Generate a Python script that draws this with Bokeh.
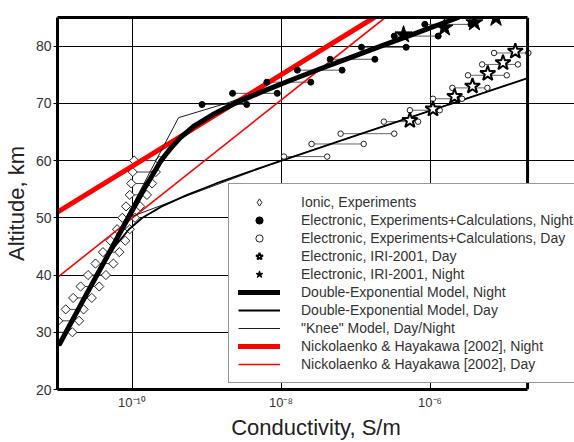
import numpy as np
from bokeh.plotting import figure
from bokeh.models import FixedTicker, Legend, LegendItem, Range1d, LogAxis, Span
from bokeh.embed import file_html
from bokeh.resources import INLINE

# ---------------- data (log10 of conductivity, S/m ; altitude, km) ----------------
ionic_alt = [30, 32, 34, 36, 38, 40, 42, 44, 46, 48, 50, 52, 54, 56, 58, 60]
ionic_lo = [-11.10, -10.99, -10.89, -10.79, -10.69, -10.59, -10.49, -10.39, -10.29,
            -10.20, -10.13, -10.08, -10.03, -10.01, -9.99, -9.97]
ionic_hi = [-10.80, -10.71, -10.65, -10.54, -10.44, -10.35, -10.25, -10.17, -10.09,
            -10.03, -9.96, -9.89, -9.80, -9.73, -9.68, -9.63]

night_alt = [69.8, 71.75, 73.7, 75.8, 77.7, 79.8, 81.75, 83.8]
night_lo = [-9.06, -8.65, -8.19, -7.78, -7.34, -6.92, -6.48, -6.07]
night_hi = [-8.46, -8.05, -7.60, -7.18, -6.74, -6.32, -5.89, -5.45]

day_alt = [60.7, 62.9, 64.7, 66.8, 68.8, 70.8, 72.7, 74.9, 76.8, 78.8]
day_lo = [-7.96, -7.59, -7.20, -6.62, -6.27, -5.96, -5.70, -5.49, -5.30, -5.14]
day_hi = [-7.38, -6.89, -6.48, -6.16, -5.87, -5.57, -5.23, -4.97, -4.82, -4.68]

iri_day_alt = [67.0, 69.0, 71.2, 73.0, 75.2, 77.1, 79.1]
iri_day_sig = [-6.27, -5.96, -5.67, -5.43, -5.225, -5.02, -4.855]

iri_night_alt = [82.0, 83.2, 84.1, 84.9]
iri_night_sig = [-6.355, -5.806, -5.404, -5.114]

de_night_alt = [28, 35, 40, 45, 50, 55, 58, 60, 62, 64, 66, 68, 70, 72, 74, 76, 78, 80, 82, 84, 85]
de_night_sig = [-10.97, -10.68, -10.47, -10.26, -10.05, -9.84, -9.70, -9.61, -9.49, -9.35,
                -9.17, -8.92, -8.62, -8.26, -7.88, -7.48, -7.07, -6.66, -6.24, -5.83, -5.62]

de_day_alt = [28, 40, 45, 48, 50, 52, 54, 56, 58, 60, 65, 70, 74.4]
de_day_sig = [-10.97, -10.47, -10.23, -10.04, -9.86, -9.60, -9.26, -8.87, -8.44, -7.99,
              -6.85, -5.70, -4.69]

knee_night_alt = [28.25, 67.5, 70.1, 85.0]
knee_night_sig = [-10.96, -9.375, -8.71, -5.60]
knee_day_alt = [28.25, 49.8, 60.0, 74.4]
knee_day_sig = [-10.96, -10.09, -8.00, -4.69]

nh_night_alt = [51.0, 85.0]
nh_night_sig = [-11.0, -6.75]
nh_day_alt = [39.6, 85.0]
nh_day_sig = [-11.0, -6.60]

x_ticks = [1e-10, 1e-8, 1e-6]
x_tick_labels = ["10⁻¹⁰", "10⁻⁸", "10⁻⁶"]
y_ticks = [20, 30, 40, 50, 60, 70, 80]

# axis extent of the boxed plot area
X_MIN, X_MAX = 1e-11, 2.04e-5
Y_MIN, Y_MAX = 20, 85
# the drawing area continues to the page edge so that the legend can overhang the box
X_VIEW_END = 8.7e-5


def S(v):
    return 10.0 ** np.asarray(v, dtype=float)


FONT = "Liberation Sans"

p = figure(width=574, height=442, x_axis_type="log",
           x_range=Range1d(X_MIN, X_VIEW_END), y_range=Range1d(Y_MIN, Y_MAX),
           output_backend="svg", toolbar_location=None,
           min_border_left=56, min_border_right=0, min_border_top=17, min_border_bottom=53)

p.outline_line_color = None

# axes
p.xaxis.ticker = FixedTicker(ticks=x_ticks, minor_ticks=[])
p.xaxis.major_label_overrides = dict(zip(x_ticks, x_tick_labels))
p.xaxis.bounds = (X_MIN, X_MAX)
p.yaxis.ticker = FixedTicker(ticks=y_ticks, minor_ticks=[])
for ax in (p.xaxis[0], p.yaxis[0]):
    ax.axis_line_width = 3
    ax.axis_line_color = "black"
    ax.major_tick_line_color = "black"
    ax.major_tick_in = 0
    ax.minor_tick_line_color = None
    ax.major_label_text_font = FONT
    ax.major_label_text_color = "#333333"
    ax.axis_label_text_font = FONT
    ax.axis_label_text_font_style = "normal"
    ax.axis_label_text_color = "#222222"
    ax.axis_label_text_font_size = "22px"
p.xaxis.major_tick_out = 0
p.yaxis.major_tick_out = 4
p.xaxis.major_label_standoff = 5
p.xaxis.axis_label_standoff = 2
p.yaxis.major_label_standoff = 2
p.yaxis.axis_label_standoff = 4
p.xaxis.major_label_text_font_size = "13px"
p.yaxis.major_label_text_font_size = "14px"
p.xaxis.axis_label = "Conductivity, S/m"
p.yaxis.axis_label = "Altitude, km"

top_axis = LogAxis(ticker=FixedTicker(ticks=[], minor_ticks=[]), bounds=(X_MIN, X_MAX),
                   axis_line_width=3, axis_line_color="black",
                   major_label_text_font_size="0px", major_tick_line_color=None,
                   minor_tick_line_color=None)
p.add_layout(top_axis, "above")
p.add_layout(Span(location=X_MAX, dimension="height", line_color="black", line_width=3))

p.xgrid.ticker = FixedTicker(ticks=x_ticks, minor_ticks=[])
p.ygrid.ticker = FixedTicker(ticks=y_ticks[1:], minor_ticks=[])
p.ygrid.bounds = (X_MIN, X_MAX)
for g in (p.xgrid[0], p.ygrid[0]):
    g.grid_line_color = "black"
    g.grid_line_width = 1
    g.grid_line_alpha = 1

# connectors of the measured ranges
p.segment(x0=S(ionic_lo), y0=ionic_alt, x1=S(ionic_hi), y1=ionic_alt, line_color="#444444", line_width=1)
p.segment(x0=S(night_lo), y0=night_alt, x1=S(night_hi), y1=night_alt, line_color="#555555", line_width=1)
p.segment(x0=S(day_lo), y0=day_alt, x1=S(day_hi), y1=day_alt, line_color="#666666", line_width=1)

ionic_x = np.concatenate([S(ionic_lo), S(ionic_hi)])
ionic_y = ionic_alt + ionic_alt
p.scatter(ionic_x, ionic_y, marker="square", angle=np.pi / 4, size=6.5,
          fill_color="white", line_color="#222222", line_width=1)
# legend sample for the ionic points: the lowest ionic point, which lies left of the box
r_ionic = p.scatter(S(ionic_lo[:1]), ionic_alt[:1], marker="diamond", size=12,
                    fill_color="white", line_color="#222222", line_width=1)

# model lines
r_nh_day = p.line(S(nh_day_sig), nh_day_alt, line_color="red", line_width=1.6)
r_nh_night = p.line(S(nh_night_sig), nh_night_alt, line_color="red", line_width=5, line_cap="round")
r_knee = p.line(S(knee_night_sig), knee_night_alt, line_color="black", line_width=0.9)
p.line(S(knee_day_sig), knee_day_alt, line_color="black", line_width=0.9)
r_de_day = p.line(S(de_day_sig), de_day_alt, line_color="black", line_width=1.8, line_join="round")
r_de_night = p.line(S(de_night_sig), de_night_alt, line_color="black", line_width=5,
                    line_join="round", line_cap="round")

# measured points
night_x = np.concatenate([S(night_lo), S(night_hi)])
r_night = p.scatter(night_x, night_alt + night_alt, marker="circle", size=6,
                    fill_color="black", line_color="black")
day_x = np.concatenate([S(day_lo), S(day_hi)])
r_day = p.scatter(day_x, day_alt + day_alt, marker="circle", size=5.5,
                  fill_color="white", line_color="#222222", line_width=1)
r_iri_day = p.scatter(S(iri_day_sig), iri_day_alt, marker="star", size=16,
                      fill_color="white", line_color="black", line_width=2)
r_iri_night = p.scatter(S(iri_night_sig), iri_night_alt, marker="star", size=18,
                        fill_color="black", line_color="black", line_width=1)

legend = Legend(items=[
    LegendItem(label="Ionic, Experiments", renderers=[r_ionic]),
    LegendItem(label="Electronic, Experiments+Calculations, Night", renderers=[r_night]),
    LegendItem(label="Electronic, Experiments+Calculations, Day", renderers=[r_day]),
    LegendItem(label="Electronic, IRI-2001, Day", renderers=[r_iri_day]),
    LegendItem(label="Electronic, IRI-2001, Night", renderers=[r_iri_night]),
    LegendItem(label="Double-Exponential Model, Night", renderers=[r_de_night]),
    LegendItem(label="Double-Exponential Model, Day", renderers=[r_de_day]),
    LegendItem(label='"Knee" Model, Day/Night', renderers=[r_knee]),
    LegendItem(label="Nickolaenko & Hayakawa [2002], Night", renderers=[r_nh_night]),
    LegendItem(label="Nickolaenko & Hayakawa [2002], Day", renderers=[r_nh_day]),
], location=(171, 6))
legend.label_text_font = FONT
legend.label_text_font_size = "14px"
legend.label_text_color = "#333333"
legend.label_height = 18
legend.glyph_height = 18
legend.glyph_width = 42
legend.label_standoff = 21
legend.spacing = 0
legend.padding = 9
legend.margin = 0
legend.border_line_color = "#333333"
legend.border_line_width = 1
legend.background_fill_color = "white"
legend.background_fill_alpha = 1
p.add_layout(legend, "center")

open("out.html", "w").write(file_html(p, INLINE))
